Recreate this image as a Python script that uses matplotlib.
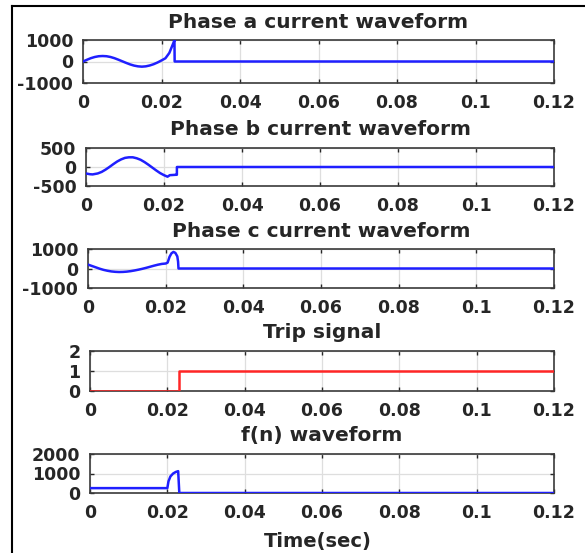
import matplotlib
matplotlib.use("Agg")
import matplotlib.pyplot as plt
from matplotlib.lines import Line2D

t_a = [0, 0.001, 0.002, 0.003, 0.004, 0.005, 0.006, 0.007, 0.008, 0.009, 0.010,
       0.011, 0.012, 0.013, 0.014, 0.015, 0.016, 0.017, 0.018, 0.019, 0.020,
       0.021, 0.022, 0.023, 0.0233, 0.02335, 0.12]
i_a = [0, 80, 155, 210, 245, 255, 245, 210, 155, 85, 10,
       -65, -135, -190, -225, -240, -225, -185, -125, -45, 50,
       150, 400, 850, 1000, 0, 0]

t_b = [0, 0.001, 0.0017, 0.003, 0.004, 0.005, 0.006, 0.007, 0.008, 0.009, 0.010,
       0.011, 0.012, 0.013, 0.014, 0.015, 0.016, 0.017, 0.018, 0.019, 0.020,
       0.0209, 0.0215, 0.023, 0.0233, 0.02331, 0.12]
i_b = [-170, -190, -195, -170, -130, -70, 0, 75, 145, 200, 240,
       255, 255, 230, 190, 130, 60, -15, -90, -160, -215,
       -255, -215, -205, -205, 0, 0]

t_c = [0, 0.001, 0.002, 0.003, 0.004, 0.005, 0.006, 0.007, 0.008, 0.009, 0.010,
       0.011, 0.012, 0.013, 0.014, 0.015, 0.016, 0.017, 0.018, 0.019, 0.020,
       0.0205, 0.021, 0.0215, 0.022, 0.0225, 0.023, 0.0232, 0.0233, 0.12]
i_c = [200, 130, 60, -10, -70, -115, -150, -170, -180, -175, -160,
       -135, -100, -60, -15, 35, 90, 145, 195, 235, 255,
       300, 600, 780, 850, 800, 620, 350, 0, 0]

t_trip = [0, 0.0231, 0.0231, 0.12]
trip = [0, 0, 1, 1]

t_f = [0, 0.020, 0.0203, 0.0208, 0.0215, 0.0222, 0.0228, 0.0231, 0.12]
f_n = [250, 250, 600, 850, 1000, 1080, 1120, 0, 0]

titles = ["Phase a current waveform", "Phase b current waveform",
          "Phase c current waveform", "Trip signal", "f(n) waveform"]
yticks = [[-1000, 0, 1000], [-500, 0, 500], [-1000, 0, 1000], [0, 1, 2], [0, 1000, 2000]]
xticks = [0, 0.02, 0.04, 0.06, 0.08, 0.1, 0.12]
xticklabels = ["0", "0.02", "0.04", "0.06", "0.08", "0.1", "0.12"]

series = [(t_a, i_a, "#1f1fff"), (t_b, i_b, "#1f1fff"), (t_c, i_c, "#1f1fff"),
          (t_trip, trip, "#ff2626"), (t_f, f_n, "#1f1fff")]

# pixel boxes (left, top, bottom) of each subplot
W, H = 585, 553
boxes = [(83, 40, 83), (86, 148, 186), (88, 249, 288), (90, 351, 391), (90, 454, 493)]
right = 554

plt.rcParams['font.family'] = 'DejaVu Sans'
plt.rcParams['font.weight'] = 'bold'
plt.rcParams['axes.unicode_minus'] = False
txt = '#262626'

fig = plt.figure(figsize=(W / 100, H / 100), dpi=100)

for k in range(5):
    l, top, bot = boxes[k]
    ax = fig.add_axes([l / W, 1 - bot / H, (right - l) / W, (bot - top) / H])
    t, y, c = series[k]
    ax.plot(t, y, color=c, linewidth=1.8, zorder=3)
    ax.set_xlim(0, 0.12)
    ax.set_ylim(yticks[k][0], yticks[k][-1])
    ax.set_xticks(xticks)
    ax.set_xticklabels(xticklabels)
    ax.set_yticks(yticks[k])
    ax.grid(True, color='#dedede', linewidth=0.9)
    ax.tick_params(direction='in', length=3, width=1, color=txt, labelcolor=txt,
                   top=True, right=True)
    ax.tick_params(axis='x', pad=8, labelsize=12.5)
    ax.tick_params(axis='y', pad=7, labelsize=12.5)
    for s in ax.spines.values():
        s.set_color('#3a3a3a')
        s.set_linewidth(1.2)
    ax.set_title(titles[k], fontsize=14.5, fontweight='bold', color=txt, pad=9)

fig.text(318 / W, 1 - 541 / H, "Time(sec)", ha='center', va='center',
         fontsize=14, fontweight='bold', color=txt)

# outer frame from the screenshot
fig.add_artist(Line2D([12 / W, 12 / W], [0, 1 - 6 / H], color='black', linewidth=1.5))
fig.add_artist(Line2D([12 / W, 1], [1 - 6 / H, 1 - 6 / H], color='black', linewidth=1.5))

fig.savefig("out.png", dpi=100)
